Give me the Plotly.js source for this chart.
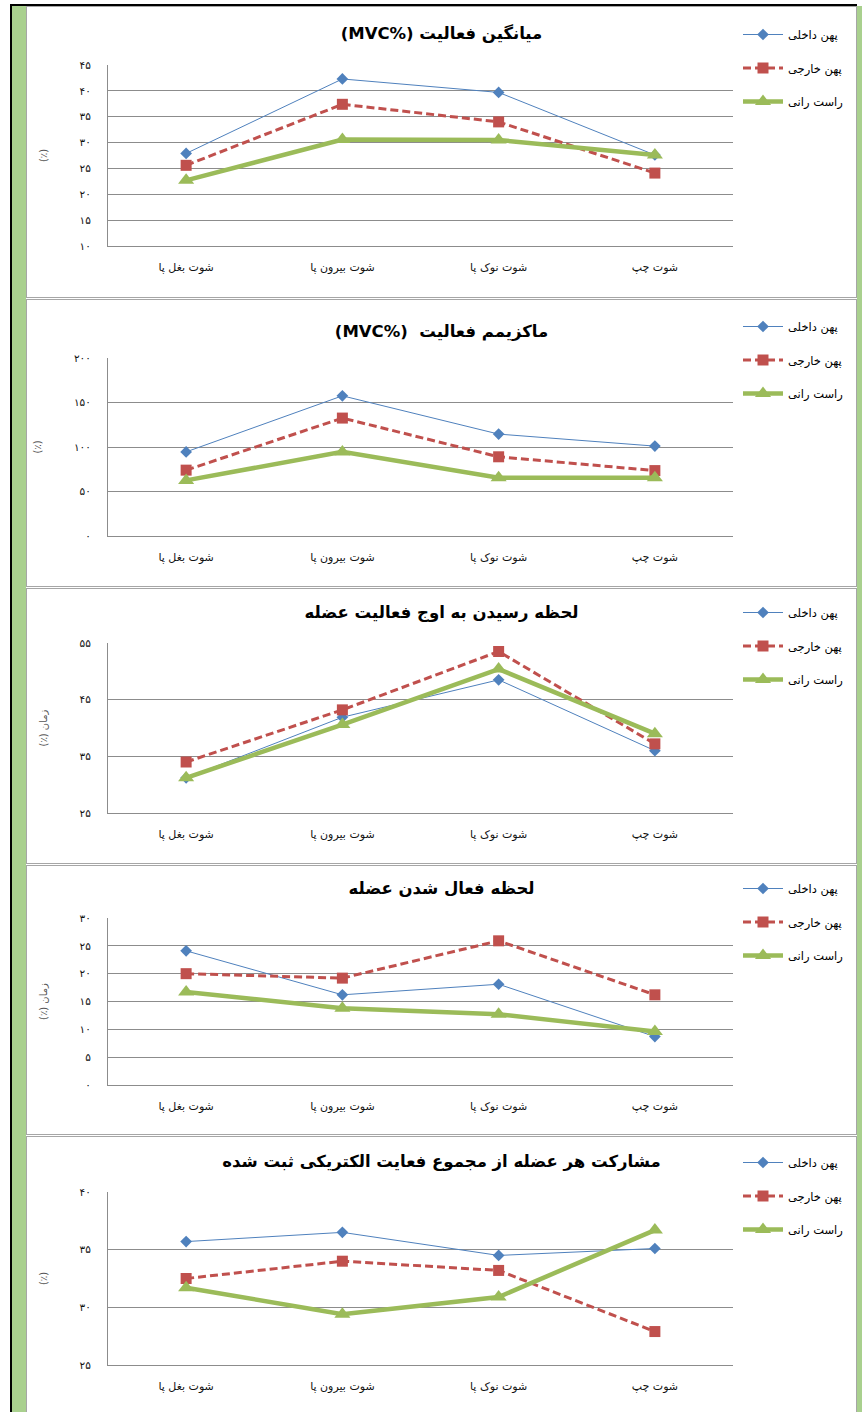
<!DOCTYPE html>
<html><head><meta charset="utf-8">
<script src="https://cdn.plot.ly/plotly-3.0.1.min.js"></script>
<style>
body{margin:0;background:#fff;width:862px;height:1412px;position:relative;overflow:hidden;}
.frame{position:absolute;}
.panel{position:absolute;left:26px;width:831px;border:1px solid #a6a6a6;box-sizing:border-box;}
.chart{position:absolute;left:27px;width:829px;}
</style></head><body>
<div class="frame" style="left:10px;top:4px;width:2px;height:1408px;background:#000"></div>
<div class="frame" style="left:10px;top:4px;width:847px;height:2px;background:#000"></div>
<div class="frame" style="left:12px;top:6px;width:14px;height:1406px;background:#a9d08e"></div>
<div class="frame" style="left:857px;top:6px;width:5px;height:1406px;background:#a9d08e"></div>
<div id="boxes"></div>
<div id="charts"></div>
<script>
// ---------- data ----------
const categories = ['شوت بغل پا', 'شوت بیرون پا', 'شوت نوک پا', 'شوت چپ'];
const seriesNames = ['پهن داخلی', 'پهن خارجی', 'راست رانی'];

const meanInner  = [27.9, 42.3, 39.7, 27.6];
const meanOuter  = [25.6, 37.4, 34.0, 24.1];
const meanRectus = [22.7, 30.6, 30.5, 27.6];
const meanTickVals = [10, 15, 20, 25, 30, 35, 40, 45];
const meanTickText = ['۱۰', '۱۵', '۲۰', '۲۵', '۳۰', '۳۵', '۴۰', '۴۵'];

const maxInner  = [94.5, 157.5, 114.5, 101];
const maxOuter  = [74, 132.5, 89, 73.5];
const maxRectus = [62.5, 94.5, 65.5, 65.5];
const maxTickVals = [0, 50, 100, 150, 200];
const maxTickText = ['۰', '۵۰', '۱۰۰', '۱۵۰', '۲۰۰'];

const peakInner  = [31.2, 41.9, 48.5, 36.0];
const peakOuter  = [34.0, 43.2, 53.5, 37.2];
const peakRectus = [31.2, 40.6, 50.4, 39.0];
const peakTickVals = [25, 35, 45, 55];
const peakTickText = ['۲۵', '۳۵', '۴۵', '۵۵'];

const onsetInner  = [24.1, 16.2, 18.1, 8.7];
const onsetOuter  = [20.0, 19.2, 25.9, 16.2];
const onsetRectus = [16.7, 13.8, 12.7, 9.6];
const onsetTickVals = [0, 5, 10, 15, 20, 25, 30];
const onsetTickText = ['۰', '۵', '۱۰', '۱۵', '۲۰', '۲۵', '۳۰'];

const shareInner  = [35.7, 36.5, 34.5, 35.1];
const shareOuter  = [32.5, 34.0, 33.2, 27.9];
const shareRectus = [31.7, 29.4, 30.9, 36.7];
const shareTickVals = [25, 30, 35, 40];
const shareTickText = ['۲۵', '۳۰', '۳۵', '۴۰'];

const titles = [
  'میانگین فعالیت (MVC%\u200E)',
  'ماکزیمم فعالیت  (MVC%\u200E)',
  'لحظه رسیدن به اوج فعالیت عضله',
  'لحظه فعال شدن عضله',
  'مشارکت هر عضله از مجموع فعایت الکتریکی ثبت شده'
];
const yTitles = ['(٪)', '(٪)', 'زمان (٪)', 'زمان (٪)', '(٪)'];

// ---------- layout (positions / styles) ----------
const panels = [
  {series:[meanInner, meanOuter, meanRectus], tv:meanTickVals, tt:meanTickText, range:[10,45],
   top:6, h:292, plotTop:65, plotBot:245.7, titleOff:27.3, legOff:29},
  {series:[maxInner, maxOuter, maxRectus], tv:maxTickVals, tt:maxTickText, range:[0,200],
   top:299, h:288, plotTop:357.7, plotBot:535.7, titleOff:32.7, legOff:28},
  {series:[peakInner, peakOuter, peakRectus], tv:peakTickVals, tt:peakTickText, range:[25,55],
   top:588, h:276, plotTop:643.3, plotBot:813.3, titleOff:24.3, legOff:25},
  {series:[onsetInner, onsetOuter, onsetRectus], tv:onsetTickVals, tt:onsetTickText, range:[0,30],
   top:865, h:270, plotTop:918.3, plotBot:1085, titleOff:23.3, legOff:24},
  {series:[shareInner, shareOuter, shareRectus], tv:shareTickVals, tt:shareTickText, range:[25,40],
   top:1136, h:280, plotTop:1192.3, plotBot:1365.3, titleOff:25.7, legOff:27}
];

const styles = [
  {line:{color:'#4f81bd', width:1}, marker:{symbol:'diamond', size:9, color:'#4f81bd'}},
  {line:{color:'#c0504d', width:3, dash:'8px,4px'}, marker:{symbol:'square', size:11, color:'#c0504d'}},
  {line:{color:'#9bbb59', width:4.5}, marker:{symbol:'triangle-up', size:14, color:'#9bbb59'}}
];

const FONT = 'DejaVu Sans';
const rtl = s => '\u202B' + s + '\u202C';
const W = 829, PLOT_L = 108, PLOT_R = 733.5, LEFT = 27;

const boxes = document.getElementById('boxes');
const charts = document.getElementById('charts');

panels.forEach((p, i) => {
  const box = document.createElement('div');
  box.className = 'panel';
  box.style.top = p.top + 'px';
  box.style.height = p.h + 'px';
  boxes.appendChild(box);

  const div = document.createElement('div');
  div.className = 'chart';
  div.style.top = p.top + 'px';
  div.style.height = p.h + 'px';
  charts.appendChild(div);

  const traces = p.series.map((vals, k) => ({
    type:'scatter', mode:'lines+markers',
    x: categories.map(rtl), y: vals,
    name: rtl(seriesNames[k]), legendgroup:'g'+k,
    line: styles[k].line, marker: styles[k].marker,
    hoverinfo:'skip'
  }));

  const layout = {
    width: W, height: p.h,
    margin: {l: PLOT_L - LEFT, r: LEFT + W - PLOT_R, t: p.plotTop - p.top, b: p.top + p.h - p.plotBot, pad:0},
    paper_bgcolor:'rgba(0,0,0,0)', plot_bgcolor:'rgba(0,0,0,0)',
    title: {text: rtl(titles[i]), xref:'container', x:0.5, xanchor:'center',
            yref:'container', y: 1 - p.titleOff / p.h, yanchor:'middle',
            font:{family:FONT, size:16.5, color:'#000', weight:'bold'}},
    xaxis: {type:'category', range:[-0.5, 3.5], showgrid:false, zeroline:false,
            showline:true, linecolor:'#8c8c8c', linewidth:1, ticks:'',
            tickfont:{family:FONT, size:11, color:'#111'}, ticklabelstandoff:11, fixedrange:true},
    yaxis: {range:p.range, tickmode:'array', tickvals:p.tv, ticktext:p.tt,
            showgrid:true, gridcolor:'#8c8c8c', gridwidth:1, zeroline:false,
            showline:true, linecolor:'#8c8c8c', linewidth:1, ticks:'',
            tickfont:{family:FONT, size:10.5, color:'#111'}, ticklabelstandoff:14,
            title:{text: rtl(yTitles[i]), font:{family:FONT, size:10, color:'#555'}, standoff:30},
            fixedrange:true},
    showlegend:true,
    legend: {xref:'container', yref:'container', x: 711 / W, xanchor:'left',
             y: 1 - (p.legOff - 15) / p.h, yanchor:'top',
             font:{family:FONT, size:11.5, color:'#000'}, tracegroupgap:14.5,
             bgcolor:'rgba(0,0,0,0)', itemwidth:40, traceorder:'grouped'}
  };
  Plotly.newPlot(div, traces, layout, {staticPlot:true, displayModeBar:false});
});
</script>
</body></html>
